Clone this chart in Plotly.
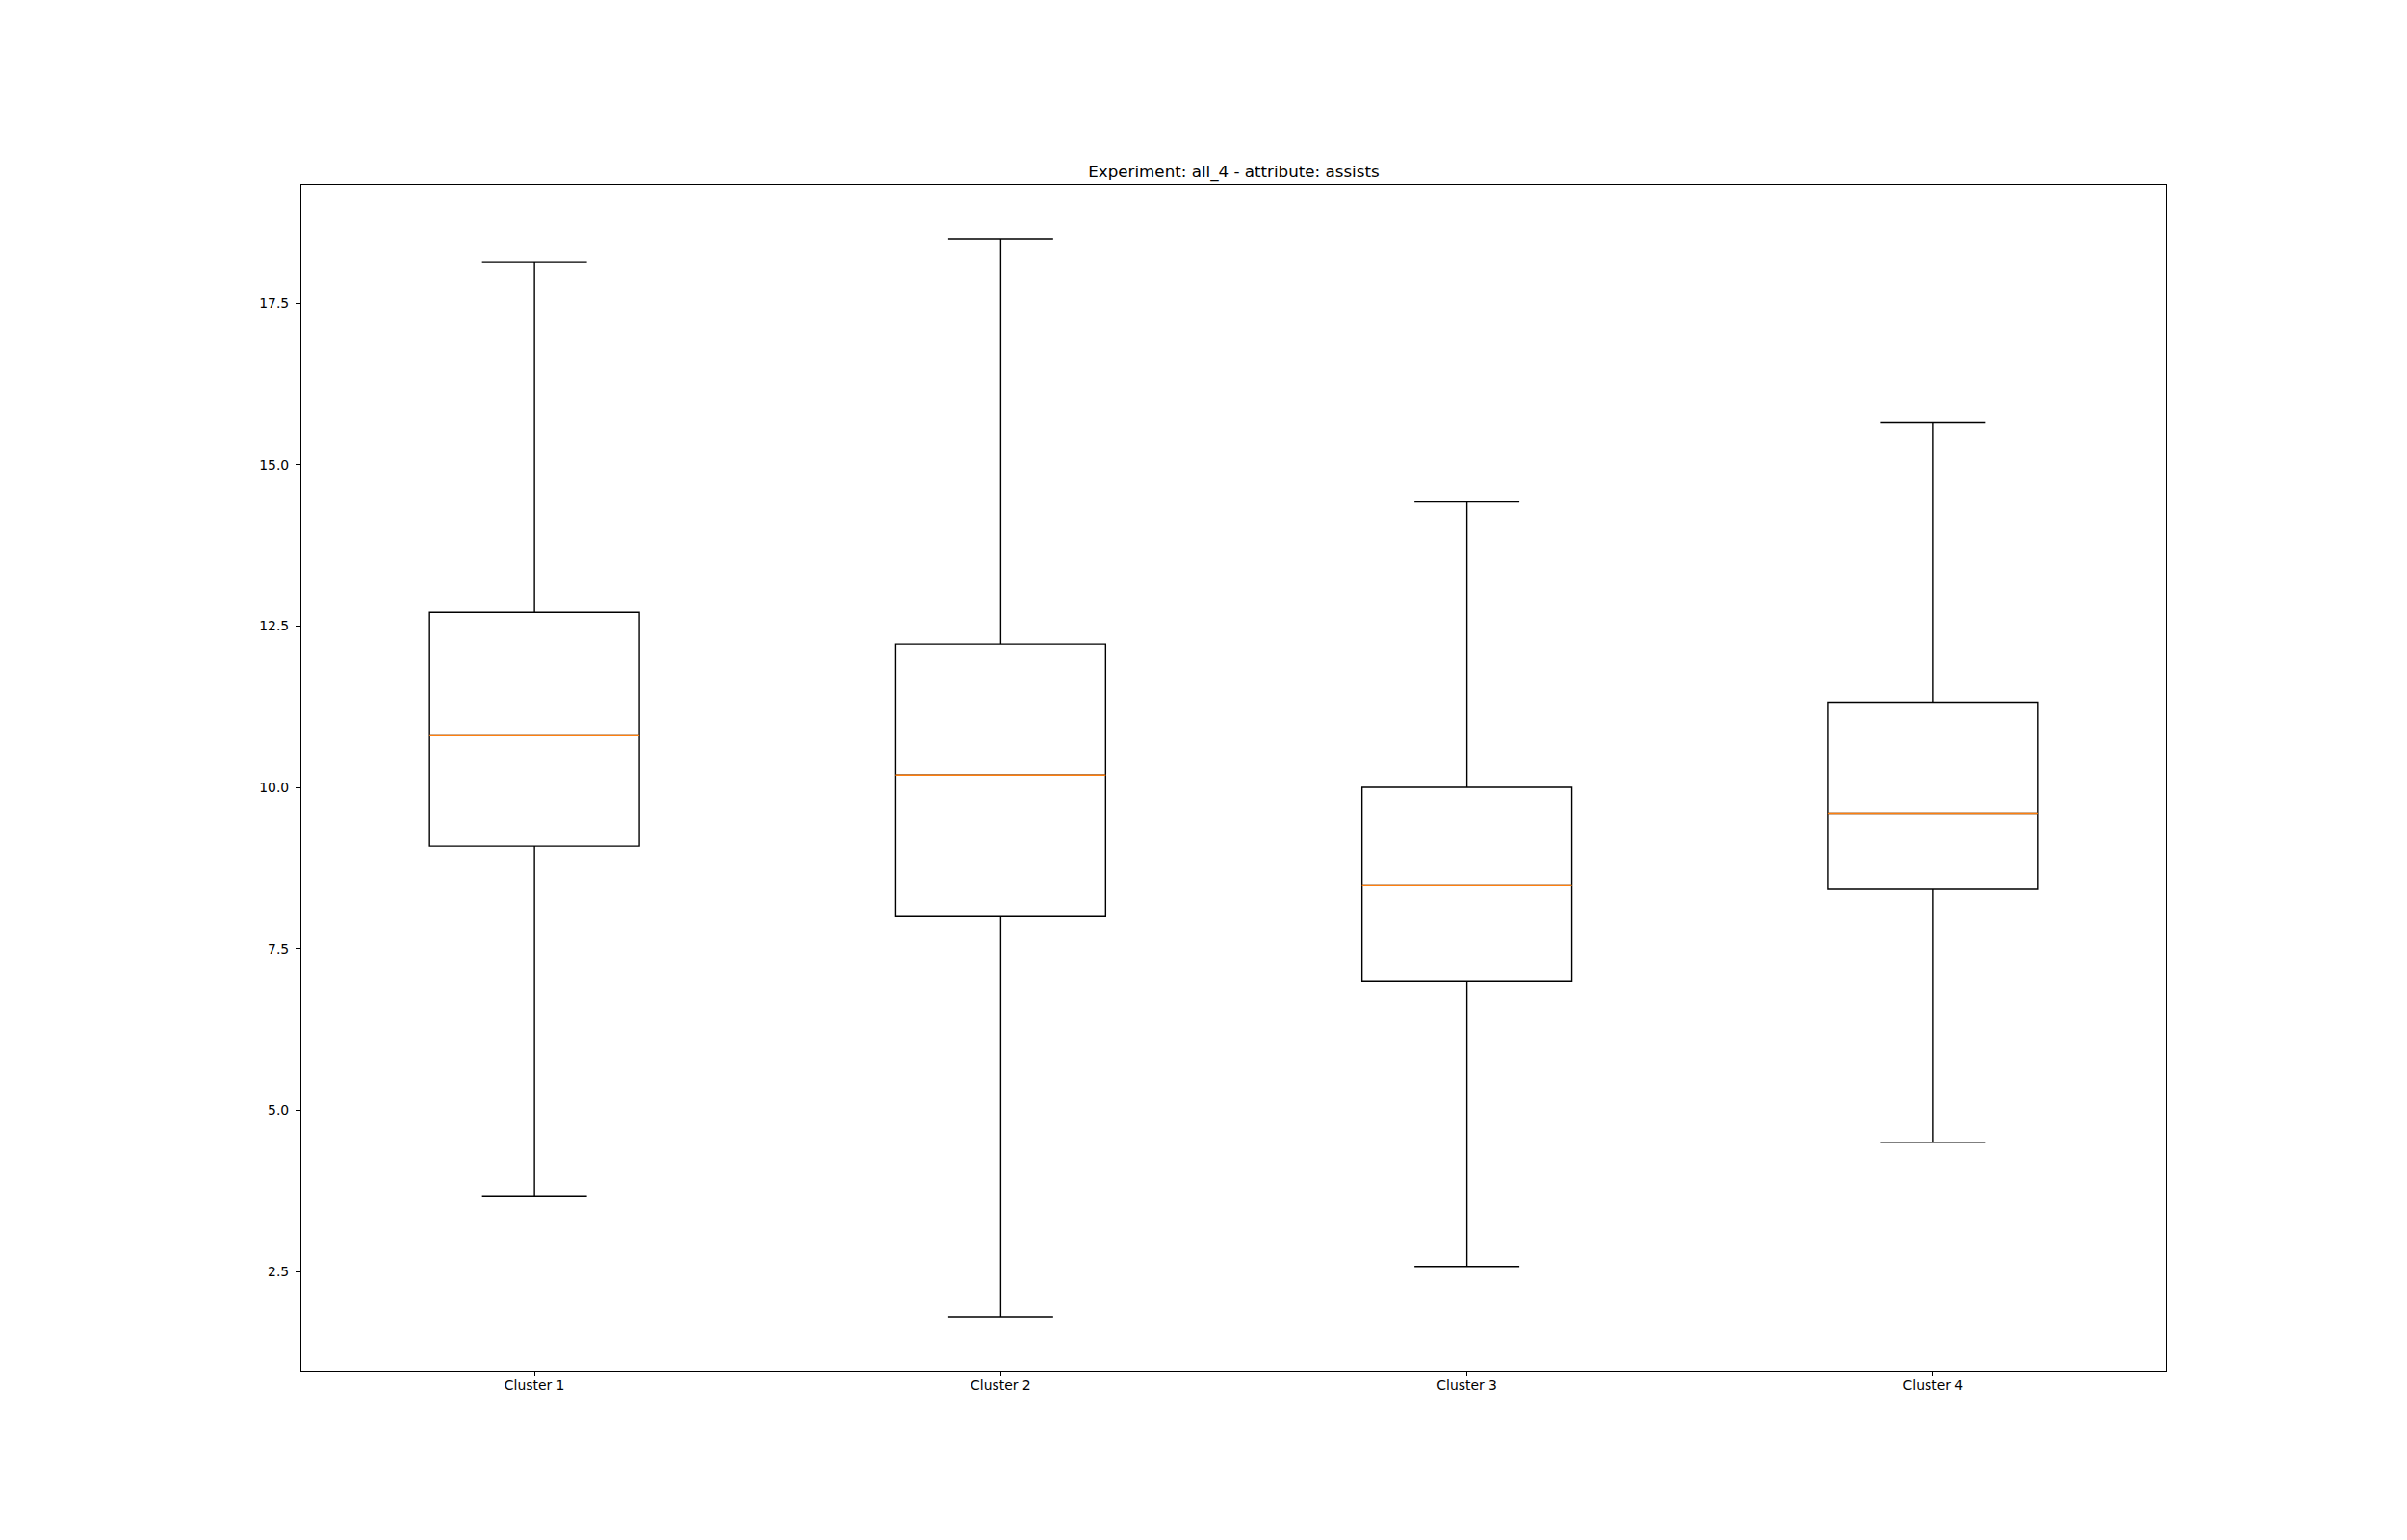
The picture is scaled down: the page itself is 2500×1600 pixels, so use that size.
import plotly.graph_objects as go

categories = ["Cluster 1", "Cluster 2", "Cluster 3", "Cluster 4"]
positions = [1, 2, 3, 4]
lower_whisker = [3.66, 1.80, 2.58, 4.50]
q1 = [9.09, 8.00, 7.00, 8.42]
median = [10.80, 10.19, 8.49, 9.59]
q3 = [12.71, 12.22, 10.00, 11.32]
upper_whisker = [18.14, 18.50, 14.42, 15.66]
y_ticks = [2.5, 5.0, 7.5, 10.0, 12.5, 15.0, 17.5]

box_width = 0.45
lw = 1.4

fig = go.Figure()
fig.add_trace(go.Box(
    x=positions, q1=q1, median=median, q3=q3,
    lowerfence=lower_whisker, upperfence=upper_whisker,
    width=box_width, whiskerwidth=0.5,
    line=dict(color="black", width=lw),
    fillcolor="rgba(255,255,255,0)",
    boxpoints=False, hoverinfo="skip", showlegend=False,
))

mx, my = [], []
for p, m in zip(positions, median):
    mx += [p - box_width / 2, p + box_width / 2, None]
    my += [m, m, None]
fig.add_trace(go.Scatter(
    x=mx, y=my, mode="lines",
    line=dict(color="#ff7f0e", width=lw),
    hoverinfo="skip", showlegend=False,
))

lo = min(lower_whisker)
hi = max(upper_whisker)
pad = 0.05 * (hi - lo)

axis_common = dict(
    showline=True, linecolor="black", linewidth=1.1, mirror=True,
    ticks="outside", ticklen=5, tickwidth=1.1, tickcolor="black",
    showgrid=False, zeroline=False,
    tickfont=dict(family="DejaVu Sans", size=13.9, color="black"),
)

fig.update_layout(
    width=2500, height=1600,
    margin=dict(l=312.5, r=250, t=192, b=176, pad=0),
    paper_bgcolor="white", plot_bgcolor="white",
    font=dict(family="DejaVu Sans", color="black"),
    title=dict(
        text="Experiment: all_4 - attribute: assists",
        x=0.5, xref="paper", xanchor="center",
        y=1, yref="paper", yanchor="bottom",
        pad=dict(b=8),
        font=dict(family="DejaVu Sans", size=16.7, color="black"),
    ),
    xaxis=dict(range=[0.5, 4.5], tickvals=positions, ticktext=categories,
               ticklabelstandoff=-3, **axis_common),
    yaxis=dict(range=[lo - pad, hi + pad], tickvals=y_ticks,
               ticktext=[f"{v:.1f}" for v in y_ticks],
               ticklabelstandoff=4, **axis_common),
)

fig.write_html("out.html")
